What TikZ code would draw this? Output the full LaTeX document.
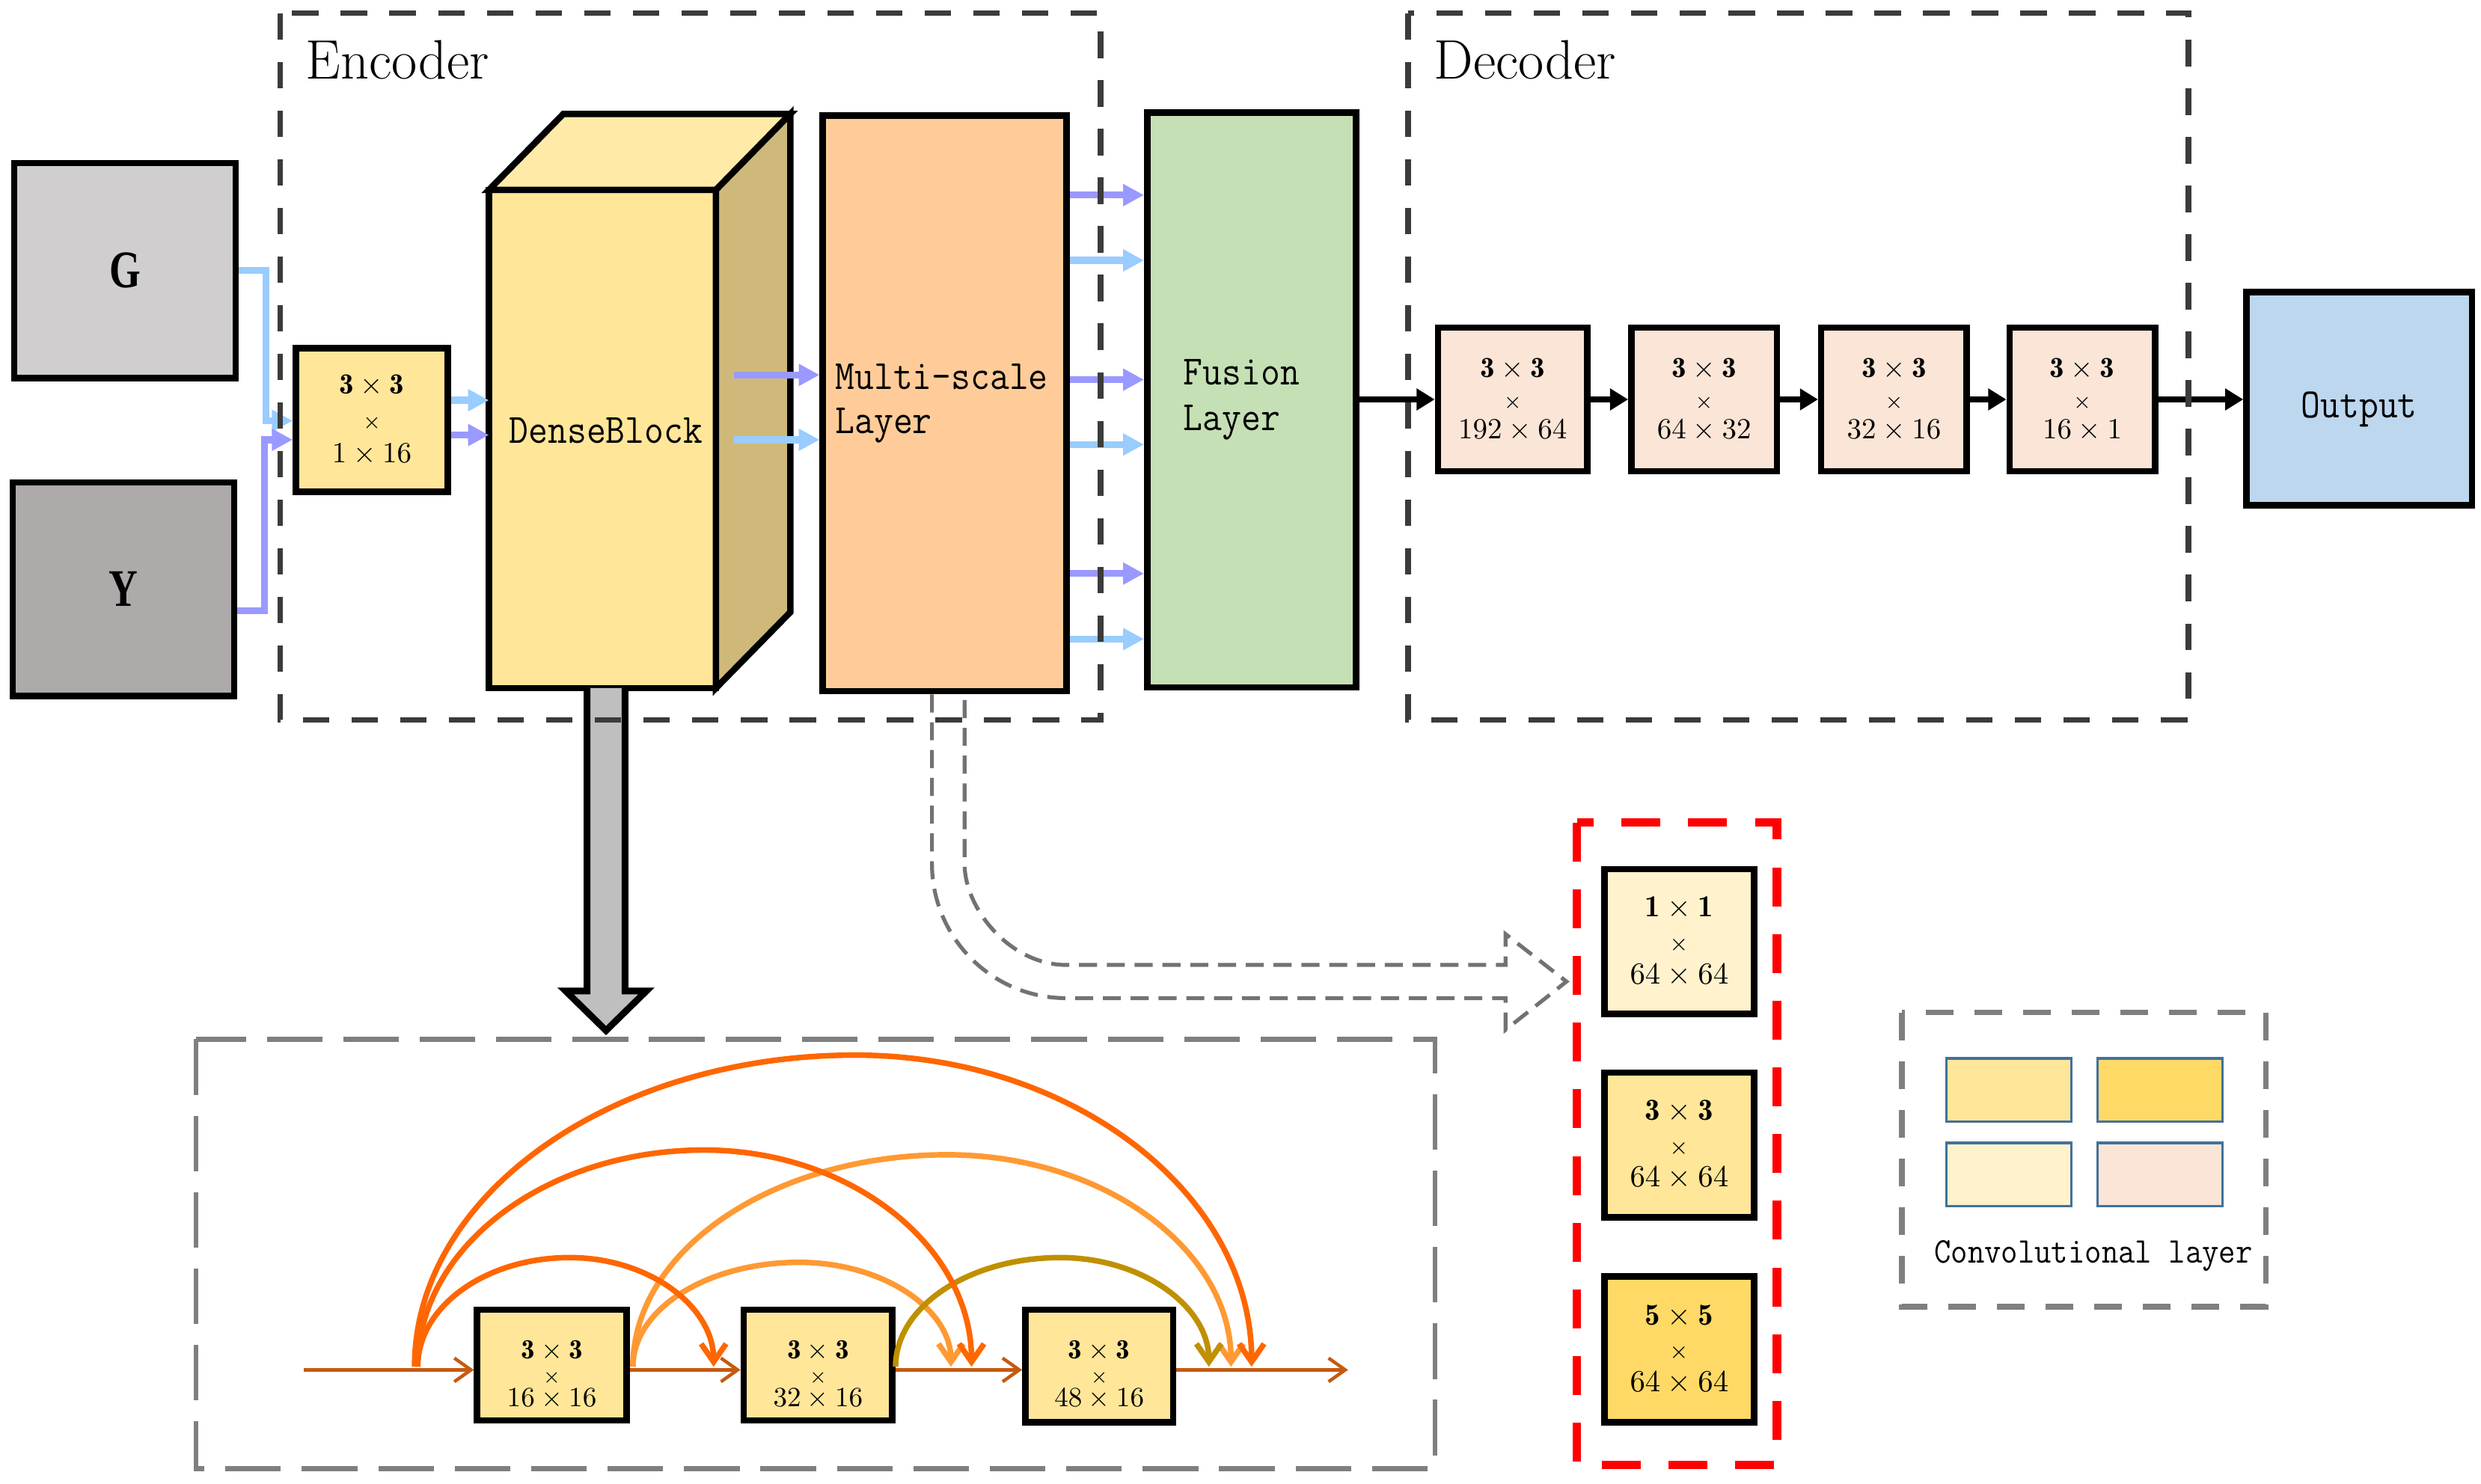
\RequirePackage{fix-cm}
\documentclass[tikz,border=0pt]{standalone}
\usepackage{fontspec}
\usepackage{graphicx}
\usetikzlibrary{arrows.meta,calc}
\newfontfamily\gyfont{Liberation Serif}

\definecolor{gbox}{HTML}{D0CECE}
\definecolor{ybox}{HTML}{AEAAAA}
\definecolor{cyel}{HTML}{FFE699}
\definecolor{clyel}{HTML}{FFF2CC}
\definecolor{cgold}{HTML}{FFD966}
\definecolor{cpeach}{HTML}{FBE5D6}
\definecolor{corng}{HTML}{FFCC99}
\definecolor{cgreen}{HTML}{C5E0B4}
\definecolor{cblue}{HTML}{BDD7EE}
\definecolor{dbtop}{HTML}{FFEAA8}
\definecolor{dbside}{HTML}{CFB97A}
\definecolor{lblue}{HTML}{99CCFF}
\definecolor{lpurp}{HTML}{9999FF}
\definecolor{arcA}{HTML}{FF6600}
\definecolor{arcB}{HTML}{FF9933}
\definecolor{arcC}{HTML}{BF9000}
\definecolor{mainl}{HTML}{C55A11}
\definecolor{dkgray}{HTML}{3B3B3B}
\definecolor{mdgray}{HTML}{7F7F7F}
\definecolor{hgray}{HTML}{767171}
\definecolor{lgborder}{HTML}{41719C}
\definecolor{arrgray}{HTML}{BFBFBF}

\newcommand{\mono}[1]{\scalebox{0.9}[1]{\ttfamily\addfontfeatures{FakeBold=1.2}#1}}
\newcommand{\densearc}[5]{%
  \draw[arcst, #1] (#2,864) .. controls (#2, {864-0.552*(864-#4)}) and ({#3-0.552*(#3-#2)}, #4) .. (#3,#4)
    .. controls ({#3+0.552*(#5-#3)}, #4) and (#5, {864-0.552*(864-#4)}) .. (#5,864);}

\begin{document}
\begin{tikzpicture}[x=0.02cm, y=-0.02cm,
  box/.style={draw=black, line width=2.3pt, inner sep=0pt, align=center},
  bl/.style={line width=2.5pt, -{Triangle[length=7.5pt,width=7.5pt]}},
  blk/.style={line width=2.2pt, -{Triangle[length=6.5pt,width=7.5pt]}},
  mainln/.style={mainl, line width=1.2pt, -{Straight Barb[length=6pt,width=8.5pt]}},
  arcst/.style={line width=2pt, -{Straight Barb[length=6.5pt,width=9pt]}},
  monof/.style={font=\fontsize{15}{16}\selectfont},
  deccv/.style={box, fill=cpeach, minimum width=1.84cm, minimum height=1.82cm, font=\fontsize{10.5}{11}\selectfont},
  dcv/.style={box, fill=cyel, minimum height=1.4cm},
  dtxt/.style={align=center, font=\fontsize{10}{8.6}\selectfont},
  rcv/.style={box, minimum width=1.89cm, minimum height=1.83cm, font=\fontsize{11}{12}\selectfont},
  leg/.style={draw=lgborder, line width=0.9pt, minimum width=1.58cm, minimum height=0.8cm, inner sep=0pt},
  hollow/.style={hgray, line width=1.4pt, dash pattern=on 6.5pt off 3.5pt, line join=miter},
  encbox/.style={dkgray, line width=2pt, dash pattern=on 9.5pt off 8pt}
]
\useasboundingbox (0,0) rectangle (1568,938);

% ---------------- inputs ----------------
\node[box, fill=gbox, minimum width=2.8cm, minimum height=2.72cm] (G) at (79,171)
  {\raisebox{-1.5pt}{\scalebox{0.76}[1]{\fontsize{19}{19}\selectfont\gyfont\bfseries G}}};
\node[box, fill=ybox, minimum width=2.8cm, minimum height=2.7cm] (Y) at (78,372.5)
  {\raisebox{-1.5pt}{\scalebox{0.76}[1]{\fontsize{19}{19}\selectfont\gyfont\bfseries Y}}};

\node[box, fill=cyel, minimum width=1.92cm, minimum height=1.82cm, font=\fontsize{10.5}{12.3}\selectfont] (sb) at (235,265.5)
  {$\mathbf{3}\times\mathbf{3}$\\$\scriptstyle\times$\\$1\times16$};

% ---------------- DenseBlock ----------------
\node[box, outer sep=0pt, fill=cyel, minimum width=2.87cm, minimum height=6.3cm] (dense) at (380.75,277.5) {};
\draw[line width=2.3pt, line join=miter, fill=dbtop] (dense.north west) -- ($(dense.north west)+(47,-48)$)
  -- ($(dense.north east)+(47,-48)$) -- (dense.north east) -- cycle;
\draw[line width=2.3pt, line join=miter, fill=dbside] (dense.north east) -- ($(dense.north east)+(47,-48)$)
  -- ($(dense.south east)+(47,-48)$) -- (dense.south east) -- cycle;
\node[monof] (denseT) at (383,272) {\mono{DenseBlock}};

% ---------------- Multi-scale & Fusion ----------------
\node[box, fill=corng, minimum width=3.08cm, minimum height=7.28cm, align=left, text width=2.76cm,
  inner xsep=0.16cm, font=\fontsize{15}{16}\selectfont] (ms) at (597,255) {\mono{Multi-scale}\\\mono{Layer}};
\node[box, fill=cgreen, minimum width=2.64cm, minimum height=7.27cm, align=left, text width=1.72cm,
  inner xsep=0.46cm, font=\fontsize{15}{16.5}\selectfont] (fu) at (791,252.75) {\mono{Fusion}\\\mono{Layer}};

% ---------------- Decoder ----------------
\node[deccv, minimum width=1.89cm] (d1) at (956,252.5) {$\mathbf{3}\times\mathbf{3}$\\$\scriptstyle\times$\\$192\times64$};
\node[deccv] (d2) at (1077,252.5) {$\mathbf{3}\times\mathbf{3}$\\$\scriptstyle\times$\\$64\times32$};
\node[deccv] (d3) at (1197,252.5) {$\mathbf{3}\times\mathbf{3}$\\$\scriptstyle\times$\\$32\times16$};
\node[deccv] (d4) at (1316,252.5) {$\mathbf{3}\times\mathbf{3}$\\$\scriptstyle\times$\\$16\times1$};
\node[box, fill=cblue, minimum width=2.85cm, minimum height=2.7cm, monof, text height=16pt, text depth=2pt] (out) at (1491,252) {\mono{Output}};

% ---------------- connectors ----------------
\draw[bl, draw=lblue] (G.east) -- (168,171) |- ($(sb.west)+(0,0.5)$);
\draw[bl, draw=lpurp] ($(Y.east)+(0,13.5)$) -| ($(sb.west)+(-18,12.5)$) -- ($(sb.west)+(0,12.5)$);

\draw[bl, draw=lblue] ($(sb.east)+(0,-12.5)$) coordinate (s1) -- (s1 -| dense.west);
\draw[bl, draw=lpurp] ($(sb.east)+(0,9.5)$) coordinate (s2) -- (s2 -| dense.west);

\draw[bl, draw=lpurp] ($(dense.east)+(11.5,-40.5)$) coordinate (t1) -- (t1 -| ms.west);
\draw[bl, draw=lblue] ($(dense.east)+(11.5,0.5)$) coordinate (t2) -- (t2 -| ms.west);

\foreach \dy/\cl in {-131.7/lpurp, -90.4/lblue, -15/lpurp, 26/lblue, 107.6/lpurp, 149/lblue}
  \draw[bl, draw=\cl] ($(ms.east)+(0,\dy)$) coordinate (u) -- (u -| fu.west);

\draw[blk] (fu.east |- d1.west) -- (d1.west);
\draw[blk] (d1.east) -- (d2.west);
\draw[blk] (d2.east) -- (d3.west);
\draw[blk] (d3.east) -- (d4.west);
\draw[blk] (d4.east) -- (out.west |- d4.east);

% ---------------- big gray arrow ----------------
\coordinate (da) at ($(dense.south)+(2.25,0)$);
\draw[fill=arrgray, line width=2.4pt, line join=miter]
  ($(da)+(-12,0)$) -- ($(da)+(-12,191.5)$) -- ($(da)+(-25.5,191.5)$) -- ($(da)+(0,216.5)$)
  -- ($(da)+(25.5,191.5)$) -- ($(da)+(12,191.5)$) -- ($(da)+(12,0)$);

% ---------------- hollow dashed arrow ----------------
\coordinate (hT) at (990,620.5);
\draw[hollow] ($(ms.south)+(-8,0)$) -- (589,546) .. controls (589,592.9) and (627.1,631) .. (674,631)
  -- (951.5,631) -- (951.5,651) -- (hT) -- (951.5,590.5) -- (951.5,610) -- (674,610)
  .. controls (638.5,610) and (609.6,574.7) .. (609.6,546) -- ($(ms.south)+(12.6,0)$);

% ---------------- DenseBlock detail ----------------
\draw[mdgray, line width=1.7pt, dash pattern=on 20pt off 7.5pt] (124,657) rectangle (907,928.5);
\node[dcv, minimum width=1.89cm] (B1) at (348.75,863) {};
\node[dcv, minimum width=1.88cm] (B2) at (517,863) {};
\node[dcv, minimum width=1.87cm, minimum height=1.42cm] (B3) at (694.75,863.5) {};
\node[dtxt] (B1t) at (348.75,869) {$\mathbf{3}\times\mathbf{3}$\\$\scriptstyle\times$\\$16\times16$};
\node[dtxt] (B2t) at (517,869) {$\mathbf{3}\times\mathbf{3}$\\$\scriptstyle\times$\\$32\times16$};
\node[dtxt] (B3t) at (694.75,869) {$\mathbf{3}\times\mathbf{3}$\\$\scriptstyle\times$\\$48\times16$};

\coordinate (m0) at (192,866);
\coordinate (m1) at (852,866);
\draw[mainln] (m0) -- (m0 -| B1.west);
\draw[mainln] (B1.east |- m0) -- (m0 -| B2.west);
\draw[mainln] (B2.east |- m0) -- (m0 -| B3.west);
\draw[mainln] (B3.east |- m0) -- (m1);

\densearc{arcB}{400}{598.6}{730}{778}
\densearc{arcB}{400}{505}{798}{601}
\densearc{arcC}{566}{670}{795}{764}
\densearc{arcA}{262}{540.5}{667}{791}
\densearc{arcA}{264}{445}{727}{614}
\densearc{arcA}{264}{360}{795}{451}

% ---------------- multi-scale kernels ----------------
\draw[red, line width=3pt, dash pattern=on 14pt off 10pt] (996.6,520) rectangle (1123,926);
\node[rcv, fill=clyel] (R1) at (1061.25,595.25) {$\mathbf{1}\times\mathbf{1}$\\$\scriptstyle\times$\\$64\times64$};
\node[rcv, fill=cyel] (R2) at (1061.25,723.75) {$\mathbf{3}\times\mathbf{3}$\\$\scriptstyle\times$\\$64\times64$};
\node[rcv, fill=cgold, minimum height=1.84cm] (R3) at (1061.25,853) {$\mathbf{5}\times\mathbf{5}$\\$\scriptstyle\times$\\$64\times64$};

% ---------------- legend ----------------
\draw[mdgray, line width=2pt, dash pattern=on 10pt off 7.5pt] (1202,640) rectangle (1432,826);
\node[leg, fill=cyel] (L1) at (1269.5,689) {};
\node[leg, fill=cgold] (L2) at (1365,689) {};
\node[leg, fill=clyel] (L3) at (1269.5,742.5) {};
\node[leg, fill=cpeach] (L4) at (1365,742.5) {};
\node[font=\fontsize{13}{13}\selectfont] (legT) at (1323,794) {\mono{Convolutional layer}};

% ---------------- encoder / decoder frames ----------------
\draw[encbox] (177,8.3) rectangle (695.6,455);
\draw[encbox] (890,8.3) rectangle (1383,455);
\node[anchor=base west, inner sep=0pt, font=\fontsize{20}{20}\selectfont] (encT) at (193,50) {Encoder};
\node[anchor=base west, inner sep=0pt, font=\fontsize{20}{20}\selectfont] (decT) at (906,50) {Decoder};
\end{tikzpicture}
\end{document}
